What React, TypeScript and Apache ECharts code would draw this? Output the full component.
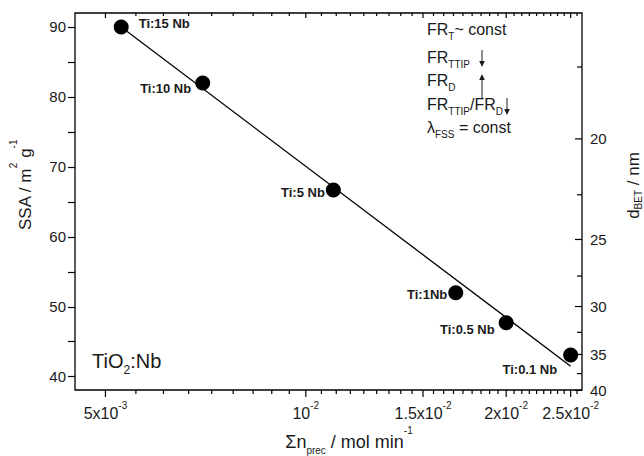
import React, { useEffect, useRef } from 'react';
import * as echarts from 'echarts';

// ---------------- data ----------------
const sampleNames = ['Ti:15 Nb', 'Ti:10 Nb', 'Ti:5 Nb', 'Ti:1Nb', 'Ti:0.5 Nb', 'Ti:0.1 Nb'];
const precursorFlow = [5.28e-3, 7.0e-3, 1.1e-2, 1.68e-2, 2.0e-2, 2.5e-2];
const ssaValues = [90.0, 82.0, 66.7, 52.0, 47.7, 43.1];
const fitFlow = [5.28e-3, 2.5e-2];
const fitSsa = [90.0, 41.5];

const xMajorTicks = [5e-3, 1e-2, 1.5e-2, 2e-2, 2.5e-2];
const xTickLabels = ['{n|5x10}{sup|-3}', '{n|10}{sup|-2}', '{n|1.5x10}{sup|-2}', '{n|2x10}{sup|-2}', '{n|2.5x10}{sup|-2}'];
const yMajorTicks = [40, 50, 60, 70, 80, 90];
const yAllTicks = [40, 45, 50, 55, 60, 65, 70, 75, 80, 85, 90];
const dMajorTicks = [20, 25, 30, 35, 40];
const dMinorTicks = [17.5, 22.5, 27.5, 32.5, 37.5];

// ---------------- axis setup ----------------
const X_MIN = 4.5e-3;
const X_MAX = 2.6e-2;
const Y_MIN = 38.1;
const Y_MAX = 92;
const X_MINOR_PER_MAJOR = 8;
const X_MAJOR_STEP = 5e-3;
// right axis (reciprocal scale): SSA position = D_A + D_B / d
const D_A = 2.09;
const D_B = 1438.3;

const FONT = '"Liberation Sans", Arial, Helvetica, sans-serif';
const INK = '#1a1a1a';

function richSet(main: number, lh: number, small: number, subHeight?: number) {
  return {
    n: { fontSize: main, lineHeight: lh, fontFamily: FONT, fill: INK, color: INK },
    sup: { fontSize: small, lineHeight: small, verticalAlign: 'top', fontFamily: FONT, fill: INK, color: INK },
    sub: {
      fontSize: small,
      lineHeight: small,
      verticalAlign: 'bottom',
      fontFamily: FONT,
      fill: INK,
      color: INK,
      ...(subHeight ? { height: subHeight } : {}),
    },
  };
}

const pointLabelLayout = [
  { position: 'right', distance: 10, offset: [0, -3] },
  { position: 'left', distance: 4, offset: [0, 6] },
  { position: 'left', distance: 1, offset: [0, 3] },
  { position: 'left', distance: 1, offset: [0, 2] },
  { position: 'left', distance: 4, offset: [0, 7] },
  { position: 'left', distance: 6, offset: [0, 14] },
];

function arrow(x: number, yFrom: number, yTo: number) {
  const dir = yTo > yFrom ? 1 : -1;
  const headBase = yTo - dir * 6;
  return [
    { type: 'line', shape: { x1: x, y1: yFrom, x2: x, y2: headBase }, style: { stroke: INK, lineWidth: 1 } },
    {
      type: 'polygon',
      shape: { points: [[x - 2.8, headBase], [x + 2.8, headBase], [x, yTo]] },
      style: { fill: INK },
    },
  ];
}

export default function App() {
  const ref = useRef<HTMLDivElement>(null);

  useEffect(() => {
    if (!ref.current) return;
    const chart = echarts.init(ref.current, undefined, { renderer: 'svg' });

    const xMinorTicks: number[] = [];
    xMajorTicks.forEach((m) => {
      for (let k = 1; k <= X_MINOR_PER_MAJOR; k++) {
        const v = m + (k * X_MAJOR_STEP) / (X_MINOR_PER_MAJOR + 1);
        if (v < X_MAX) xMinorTicks.push(v);
      }
    });
    const xTickData = [
      ...xMajorTicks.map((v, i) => [v, Y_MIN, 1, i]),
      ...xMinorTicks.map((v) => [v, Y_MIN, 0, -1]),
    ];
    const dTickData = [
      ...dMajorTicks.map((d, i) => [X_MAX, D_A + D_B / d, 1, i]),
      ...dMinorTicks.map((d) => [X_MAX, D_A + D_B / d, 0, -1]),
    ];

    const tickRich = richSet(16, 26, 10);
    const annRich = richSet(16, 24, 10);

    const annLines = [
      '{n|FR}{sub|T}{n|~ const}',
      '{n|FR}{sub|TTIP}',
      '{n|FR}{sub|D}',
      '{n|FR}{sub|TTIP}{n|/FR}{sub|D}',
      '{n|λ}{sub|FSS}{n| = const}',
    ];
    const annY = [29, 57.5, 80.5, 104, 127.5];

    const option: any = {
      animation: false,
      backgroundColor: '#ffffff',
      grid: {
        left: 75,
        right: 62,
        top: 13,
        bottom: 66,
        containLabel: false,
        show: true,
        borderColor: '#000',
        borderWidth: 1.3,
        backgroundColor: 'transparent',
      },
      xAxis: {
        type: 'log',
        logBase: 10,
        min: X_MIN,
        max: X_MAX,
        axisLine: { show: false },
        axisTick: { show: false },
        axisLabel: { show: false },
        splitLine: { show: false },
        minorTick: { show: false },
      },
      yAxis: {
        type: 'value',
        min: Y_MIN,
        max: Y_MAX,
        axisLine: { show: false },
        axisTick: {
          show: true,
          customValues: yAllTicks,
          length: 7,
          inside: false,
          lineStyle: { color: '#000', width: 1.2 },
        },
        axisLabel: {
          show: true,
          customValues: yMajorTicks,
          fontSize: 15,
          fontFamily: FONT,
          color: INK,
          margin: 9,
        },
        splitLine: { show: false },
      },
      series: [
        {
          type: 'line',
          data: fitFlow.map((x, i) => [x, fitSsa[i]]),
          showSymbol: false,
          symbol: 'none',
          lineStyle: { color: '#000', width: 1.3 },
          silent: true,
          z: 2,
        },
        {
          type: 'scatter',
          symbol: 'circle',
          symbolSize: 15,
          itemStyle: { color: '#000', opacity: 1 },
          z: 3,
          label: {
            show: true,
            formatter: '{b}',
            fontSize: 13,
            fontWeight: 'bold',
            fontFamily: FONT,
            color: INK,
          },
          data: precursorFlow.map((x, i) => ({
            name: sampleNames[i],
            value: [x, ssaValues[i]],
            label: pointLabelLayout[i],
          })),
        },
        {
          type: 'custom',
          silent: true,
          clip: false,
          z: 5,
          encode: { x: 0, y: 1 },
          data: xTickData,
          renderItem: (_p: any, api: any) => {
            const v = api.value(0);
            const major = api.value(2) === 1;
            const li = api.value(3);
            const b = api.coord([v, Y_MIN]);
            const t = api.coord([v, Y_MAX]);
            const children: any[] = [
              {
                type: 'line',
                shape: { x1: b[0], y1: b[1], x2: b[0], y2: b[1] + (major ? 7 : 4) },
                style: { stroke: '#000', lineWidth: 1.2 },
              },
              {
                type: 'line',
                shape: { x1: t[0], y1: t[1], x2: t[0], y2: t[1] + (major ? 5 : 3) },
                style: { stroke: '#000', lineWidth: 1.2 },
              },
            ];
            if (major) {
              children.push({
                type: 'text',
                x: b[0],
                y: b[1] + 23.5,
                style: {
                  text: xTickLabels[li],
                  rich: tickRich,
                  align: 'center',
                  verticalAlign: 'middle',
                },
              });
            }
            return { type: 'group', children };
          },
        },
        {
          type: 'custom',
          silent: true,
          clip: false,
          z: 5,
          encode: { x: 0, y: 1 },
          data: dTickData,
          renderItem: (_p: any, api: any) => {
            const p = api.coord([api.value(0), api.value(1)]);
            const major = api.value(2) === 1;
            const li = api.value(3);
            const children: any[] = [
              {
                type: 'line',
                shape: { x1: p[0], y1: p[1], x2: p[0] - (major ? 7 : 5), y2: p[1] },
                style: { stroke: '#000', lineWidth: 1.2 },
              },
            ];
            if (major) {
              children.push({
                type: 'text',
                x: p[0] + 8,
                y: p[1],
                style: {
                  text: String(dMajorTicks[li]),
                  fontSize: 15,
                  fontFamily: FONT,
                  fill: INK,
                  align: 'left',
                  verticalAlign: 'middle',
                },
              });
            }
            return { type: 'group', children };
          },
        },
      ],
      graphic: [
        {
          type: 'text',
          x: 349,
          y: 442,
          style: {
            text: '{n|Σn}{sub|prec}{n| / mol min}{sup|-1}',
            rich: richSet(18, 33, 10, 16),
            align: 'center',
            verticalAlign: 'middle',
          },
        },
        {
          type: 'text',
          x: 25,
          y: 185,
          rotation: Math.PI / 2,
          style: {
            text: '{n|SSA / m}{sup|2}{n| g}{sup|-1}',
            rich: richSet(17, 34, 10),
            align: 'center',
            verticalAlign: 'middle',
          },
        },
        {
          type: 'text',
          x: 633,
          y: 185.5,
          rotation: Math.PI / 2,
          style: {
            text: '{n|d}{sub|BET}{n| / nm}',
            rich: richSet(17, 20, 10),
            align: 'center',
            verticalAlign: 'middle',
          },
        },
        {
          type: 'text',
          x: 92,
          y: 360.5,
          style: {
            text: '{n|TiO}{sub|2}{n|:Nb}',
            rich: richSet(20, 30, 12),
            align: 'left',
            verticalAlign: 'middle',
          },
        },
        ...annLines.map((t, i) => ({
          type: 'text',
          x: 427,
          y: annY[i],
          style: { text: t, rich: annRich, align: 'left', verticalAlign: 'middle' },
        })),
        ...arrow(482, 50, 67),
        ...arrow(482, 98, 74),
        ...arrow(507, 98, 115),
      ],
    };

    chart.setOption(option);
    return () => chart.dispose();
  }, []);

  return (
    <div
      ref={ref}
      style={{ position: 'fixed', left: 0, top: 0, width: 644, height: 456, background: '#fff' }}
    />
  );
}
